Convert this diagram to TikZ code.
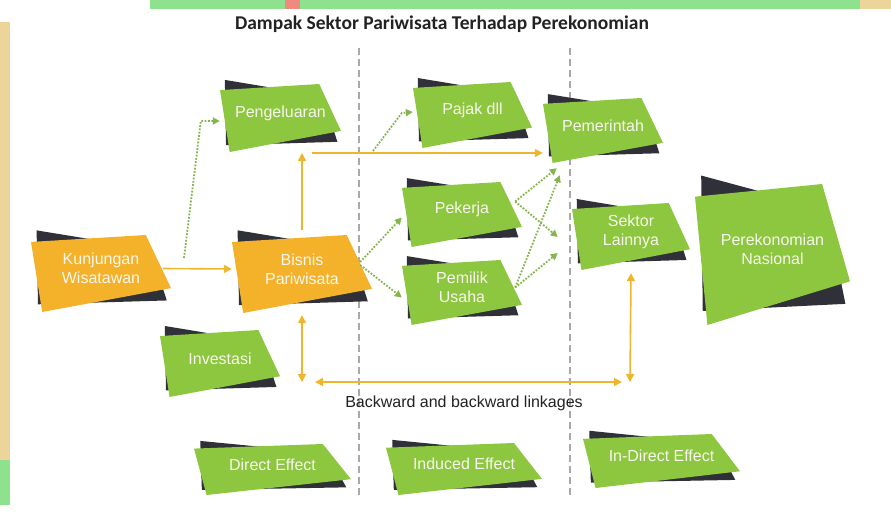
\documentclass[tikz,border=0pt]{standalone}
\usepackage{fontspec}
\setmainfont{Liberation Sans}
\newfontfamily\titlefont{Carlito}
\usetikzlibrary{arrows.meta,calc}
\definecolor{leaf}{HTML}{8DC63F}
\definecolor{sun}{HTML}{F4B12A}
\definecolor{slate}{HTML}{2F3038}
\definecolor{gold}{HTML}{EFB52C}
\definecolor{moss}{HTML}{86B54E}
\definecolor{rule}{HTML}{A9A9A9}
\definecolor{paper}{HTML}{F7F7EE}
\definecolor{ink}{HTML}{222222}
\definecolor{bandgreen}{HTML}{8EE28E}
\definecolor{bandbeige}{HTML}{EDD49B}
\definecolor{bandred}{HTML}{F08A80}

\begin{document}
\begin{tikzpicture}[x=1pt, y=-1pt,
    flag/.style={text=paper, font=\fontsize{16}{19}\selectfont, align=center, inner sep=0pt},
    link/.style={gold, line width=1.6pt, -{Triangle[length=8pt,width=8pt]}},
    dlink/.style={link, {Triangle[length=8pt,width=8pt]}-{Triangle[length=8pt,width=8pt]}},
    dotlink/.style={moss, line width=1.8pt, dash pattern=on 1.8pt off 1.5pt, -{Triangle[length=7pt,width=7pt]}},
    divider/.style={rule, line width=1.6pt, dash pattern=on 7pt off 4pt}]
    \useasboundingbox (0,0) rectangle (891,525);
    % screenshot edges
    \fill[bandgreen] (150,0) rectangle (860,9);
    \fill[bandred] (285,0) rectangle (300,9);
    \fill[bandbeige] (860,0) rectangle (891,9);
    \fill[bandbeige] (0,22) rectangle (10,460);
    \fill[bandgreen] (0,460) rectangle (10,505);
    \node[font=\titlefont\bfseries\fontsize{19.5}{23}\selectfont, text=ink] (title) at (442,24) {Dampak Sektor Pariwisata Terhadap Perekonomian};
    \draw[divider] (359,48) -- (359,497);
    \draw[divider] (570,48) -- (570,497);
    % boxes
    \foreach \nm/\xa/\ya/\xb/\yb/\col/\txt in {
      peng/220/84/341/152/leaf/Pengeluaran,
      kun/31/235/171/312/sun/Kunjungan\\Wisatawan,
      bis/232/235/372/313/sun/Bisnis\\Pariwisata,
      inv/160/330/280/397/leaf/Investasi,
      pajak/413/82/532/148/leaf/Pajak dll,
      pem/543/98/663/163/leaf/Pemerintah,
      kerja/402/182/522/247/leaf/Pekerja,
      milik/402/260/522/325/leaf/Pemilik\\Usaha,
      sektor/572/203/690/270/leaf/Sektor\\Lainnya,
      nas/695/184/850/325/leaf/Perekonomian\\Nasional,
      direct/194/444/351/495/leaf/Direct Effect,
      induced/386/443/542/495/leaf/Induced Effect,
      indirect/583/434/740/488/leaf/In-Direct Effect}{
      \pgfmathsetmacro\w{\xb-\xa}
      \pgfmathsetmacro\h{\yb-\ya}
      \fill[slate] (\xa+0.04*\w, \ya-0.06*\h) -- (\xb-0.15*\w, \ya+0.18*\h) -- (\xb-0.03*\w, \yb-0.15*\h) -- (\xa+0.05*\w, \yb-0.1*\h) -- cycle;
      \fill[\col] (\xa, \ya+0.09*\h) -- (\xb-0.18*\w, \ya) -- (\xb, \ya+0.69*\h) -- (\xa+0.08*\w, \yb) -- cycle;
      \node[flag, minimum width=\w pt, minimum height=\h pt] (\nm) at ({(\xa+\xb)/2}, {(\ya+\yb)/2-5}) {\txt};
    }
    \coordinate (tap) at (312,153);
    \coordinate (kunup) at (184,258);
    \coordinate (pajakfoot) at (373,151);
    \coordinate (lnkL) at (302,382);
    \coordinate (lnkR) at (630,382);
    % solid links
    \draw[link] ([xshift=-8pt]kun.east) -- (bis.west);
    \draw[link] (bis.north) -- (tap -| bis.north);
    \draw[link] (tap) -- (tap -| pem.west);
    \draw[dlink] ([yshift=-7pt]bis.south) -- (lnkL);
    \draw[dlink] ([yshift=-8pt]sektor.south) -- (lnkR);
    \draw[dlink] ([xshift=13pt]lnkL) -- ([xshift=-8pt]lnkR);
    \node[font=\fontsize{16}{19}\selectfont, text=ink] (linktext) at (464,403) {Backward and backward linkages};
    % dotted links
    \draw[dotlink] (kunup) -- ([xshift=-19pt,yshift=-8pt]peng.west) -- ([yshift=-8pt]peng.west);
    \draw[dotlink] (pajakfoot) -- ([xshift=-11pt,yshift=-3pt]pajak.west) -- ([yshift=-2pt]pajak.west);
    \draw[dotlink] ([xshift=-12pt,yshift=7pt]bis.east) -- ([yshift=-8pt]kerja.west);
    \draw[dotlink] ([xshift=-12pt,yshift=4pt]bis.east) -- ([yshift=-10pt]milik.west);
    \draw[dotlink] ([xshift=-7pt,yshift=8pt]kerja.east) -- ([xshift=14pt,yshift=-10pt]pem.south west);
    \draw[dotlink] ([xshift=-7pt,yshift=8pt]kerja.east) -- ([xshift=-14pt,yshift=-5.5pt]sektor.west);
    \draw[dotlink] ([xshift=-7pt]milik.east) -- ([xshift=17pt,yshift=-17pt]pem.south west);
    \draw[dotlink] ([xshift=-7pt]milik.east) -- ([xshift=-14pt,yshift=-21.5pt]sektor.west);
\end{tikzpicture}
\end{document}
